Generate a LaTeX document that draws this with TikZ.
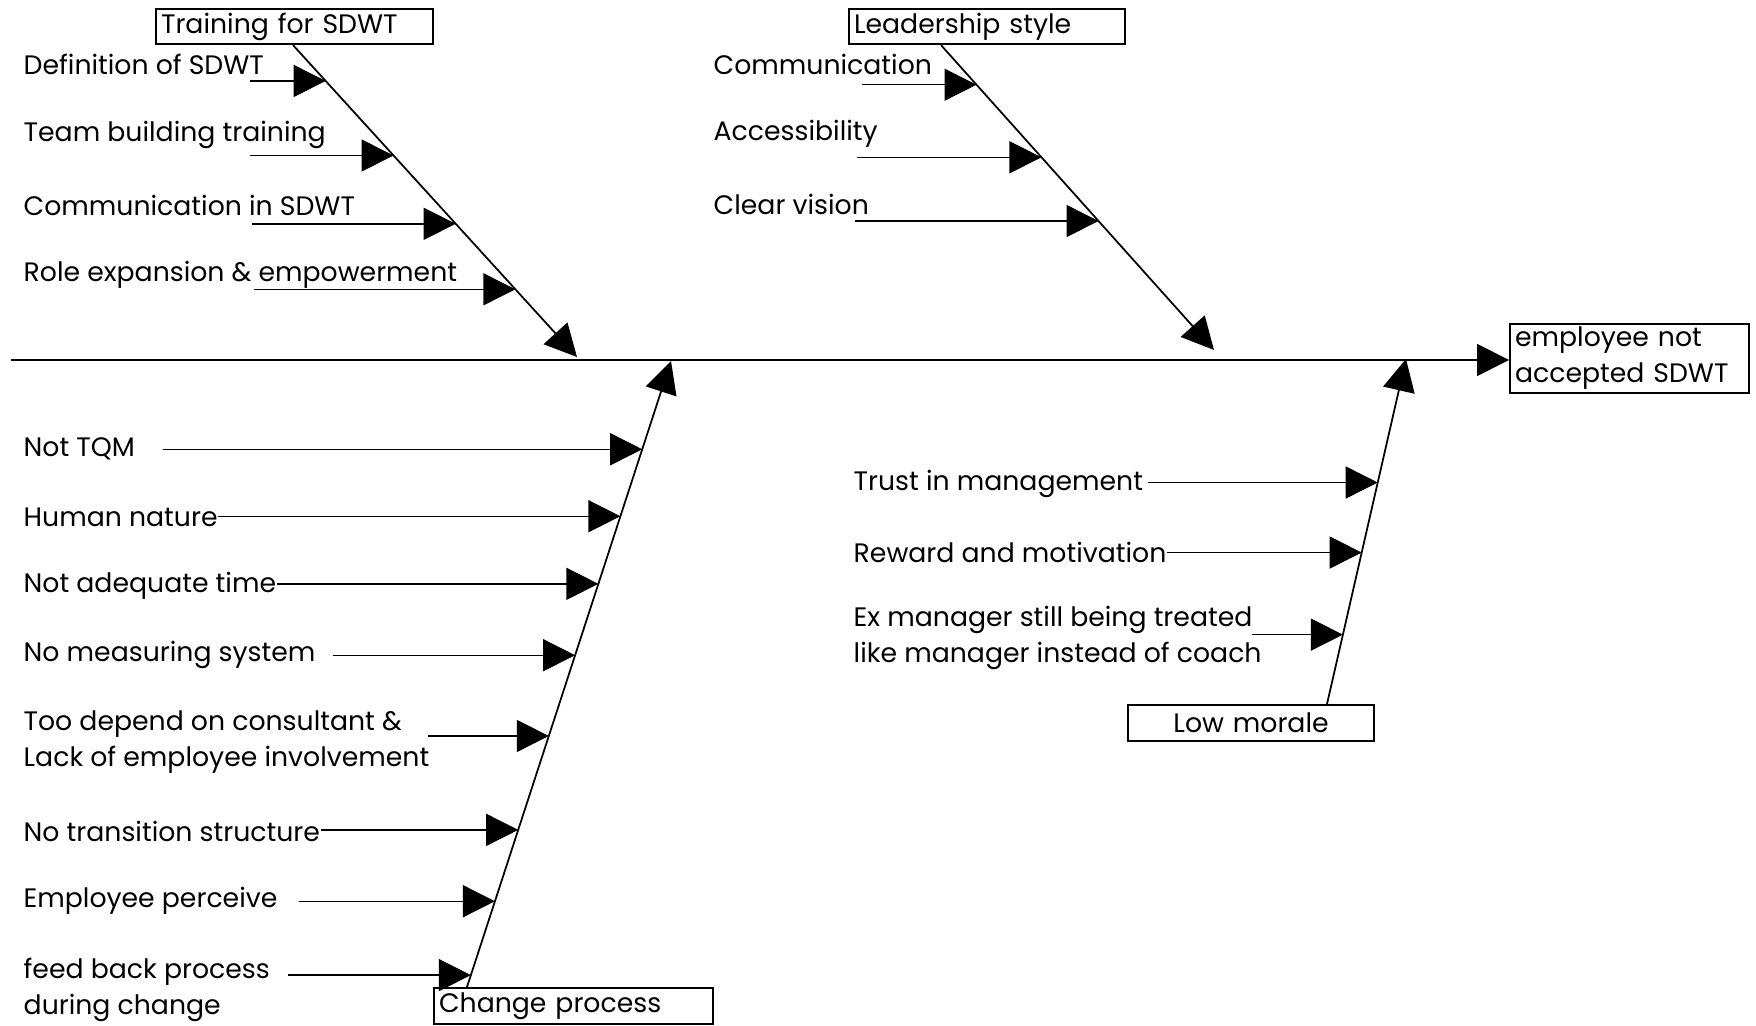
\documentclass[tikz,border=0pt]{standalone}
\usepackage{fontspec}
\setmainfont{Poppins}
\usetikzlibrary{arrows.meta}

\begin{document}
\begin{tikzpicture}[
         box/.style={draw, line width=0.6pt, anchor=north west, inner xsep=0.5mm, inner ysep=0.3mm,
                     align=left, font=\fontsize{7.6}{10.2}\selectfont},
         item/.style={anchor=west, inner sep=0pt, yshift=-0.2mm, align=left, font=\fontsize{7.6}{10.2}\selectfont},
         branch/.style={line width=0.5pt, -{Triangle[length=3.2mm,width=3.2mm]}},
         cause/.style={line width=0.4pt, -{Triangle[length=3.2mm,width=3.2mm]}}]
    \useasboundingbox (0,0) rectangle (17.56,10.25);

    \node[box, text width=26.7mm, minimum height=3.5mm] (training) at (1.55,10.17) {Training for SDWT};
    \node[box, text width=26.6mm, minimum height=3.5mm] (leader) at (8.48,10.17) {Leadership style};
    \node[box, text width=26.9mm, minimum height=3.6mm] (change) at (4.33,0.38) {Change process};
    \node[box, text width=23.6mm, minimum height=3.6mm, align=center] (morale) at (11.27,3.21) {Low morale};
    \node[box, text width=22.9mm, minimum height=6.8mm] (effect) at (15.09,7.02) {employee not\\accepted SDWT};

    \coordinate (spineStart) at (0.11,6.65);
    \coordinate (trainTip) at (5.77,6.68);
    \coordinate (leaderTip) at (12.14,6.75);
    \coordinate (changeTip) at (6.71,6.64);
    \coordinate (moraleTip) at (14.06,6.66);

    \draw[branch] (spineStart) -- (spineStart -| effect.west);

    \draw[branch] ([xshift=13.8mm]training.south west) -- coordinate[pos=0.115] (tr1) coordinate[pos=0.354] (tr2)
            coordinate[pos=0.573] (tr3) coordinate[pos=0.783] (tr4) (trainTip);
    \draw[branch] ([xshift=9.3mm]leader.south west) -- coordinate[pos=0.130] (le1) coordinate[pos=0.368] (le2)
            coordinate[pos=0.577] (le3) (leaderTip);
    \draw[branch] ([xshift=3.4mm]change.north west) -- coordinate[pos=0.859] (ch1) coordinate[pos=0.752] (ch2)
            coordinate[pos=0.644] (ch3) coordinate[pos=0.530] (ch4) coordinate[pos=0.401] (ch5)
            coordinate[pos=0.251] (ch6) coordinate[pos=0.137] (ch7) coordinate[pos=0.019] (ch8) (changeTip);
    \draw[branch] ([xshift=20mm]morale.north west) -- coordinate[pos=0.642] (mo1) coordinate[pos=0.439] (mo2)
            coordinate[pos=0.201] (mo3) (moraleTip);

    \node[item] (definition) at (0.23,9.63) {Definition of SDWT};
    \node[item] (teambuild) at (0.23,8.92) {Team building training};
    \node[item] (commteam) at (0.23,8.22) {Communication in SDWT};
    \node[item] (role) at (0.23,7.52) {Role expansion \& empowerment};

    \node[item] (communication) at (7.13,9.63) {Communication};
    \node[item] (access) at (7.13,8.93) {Accessibility};
    \node[item] (vision) at (7.13,8.23) {Clear vision};

    \node[item] (tqm) at (0.23,5.78) {Not TQM};
    \node[item] (human) at (0.23,5.10) {Human nature};
    \node[item] (time) at (0.23,4.41) {Not adequate time};
    \node[item] (measure) at (0.23,3.72) {No measuring system};
    \node[item] (consult) at (0.23,2.85) {Too depend on consultant \&\\Lack of employee involvement};
    \node[item] (transition) at (0.23,1.96) {No transition structure};
    \node[item] (perceive) at (0.23,1.26) {Employee perceive};
    \node[item] (feedback) at (0.23,0.37) {feed back process\\during change};

    \node[item] (trust) at (8.53,5.43) {Trust in management};
    \node[item] (reward) at (8.53,4.75) {Reward and motivation};
    \node[item] (exmanager) at (8.53,3.89) {Ex manager still being treated\\like manager instead of coach};

    \draw[cause] (tr1 -| 2.50,0) -- (tr1);
    \draw[cause] (tr2 -| 2.50,0) -- (tr2);
    \draw[cause] (tr3 -| 2.52,0) -- (tr3);
    \draw[cause] (tr4 -| 2.54,0) -- (tr4);

    \draw[cause] (le1 -| 8.62,0) -- (le1);
    \draw[cause] (le2 -| 8.57,0) -- (le2);
    \draw[cause] (le3 -| 8.55,0) -- (le3);

    \draw[cause] (ch1 -| 1.63,0) -- (ch1);
    \draw[cause] (ch2 -| human.east) -- (ch2);
    \draw[cause] (ch3 -| time.east) -- (ch3);
    \draw[cause] (ch4 -| 3.33,0) -- (ch4);
    \draw[cause] (ch5 -| 4.28,0) -- (ch5);
    \draw[cause] (ch6 -| transition.east) -- (ch6);
    \draw[cause] (ch7 -| 2.99,0) -- (ch7);
    \draw[cause] (ch8 -| 2.88,0) -- (ch8);

    \draw[cause] (mo1 -| 11.48,0) -- (mo1);
    \draw[cause] (mo2 -| reward.east) -- (mo2);
    \draw[cause] (mo3 -| 12.52,0) -- (mo3);
\end{tikzpicture}
\end{document}
